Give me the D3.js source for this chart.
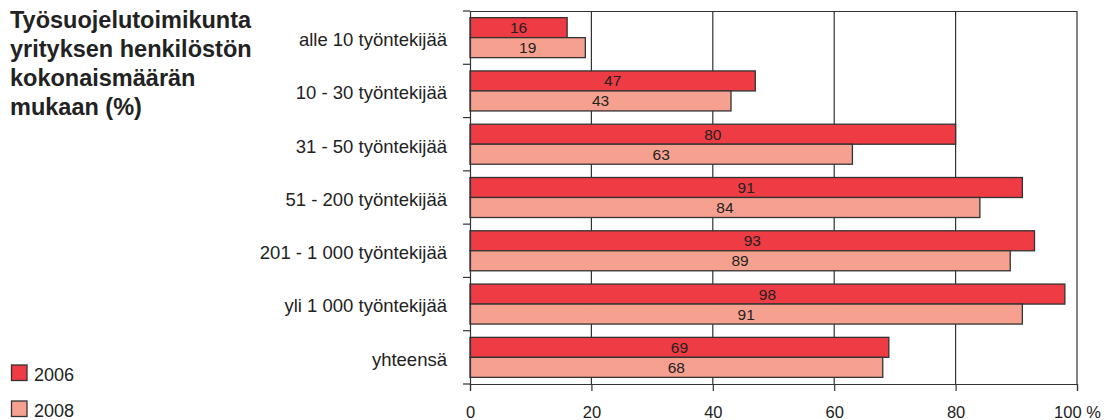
<!DOCTYPE html>
<html><head><meta charset="utf-8">
<script src="https://cdn.jsdelivr.net/npm/d3@7"></script>
<style>body{margin:0;background:#fff;font-family:"Liberation Sans",Arial,sans-serif}</style>
</head><body><svg id="c" width="1107" height="420"></svg>
<script>
const categories = ["alle 10 työntekijää","10 - 30 työntekijää","31 - 50 työntekijää","51 - 200 työntekijää","201 - 1 000 työntekijää","yli 1 000 työntekijää","yhteensä"];
const series = ["2006","2008"];
const values2006 = [16,47,80,91,93,98,69];
const values2008 = [19,43,63,84,89,91,68];
const ticks = [0,20,40,60,80,100];
const tickLabels = ["0","20","40","60","80","100 %"];
const colors = ["#EE3B44","#F6A18F"];
const titleLines = ["Työsuojelutoimikunta","yrityksen henkilöstön","kokonaismäärän","mukaan (%)"];

const svg = d3.select("#c");
const L=470, R=1077, T=11, B=384;
const x = d3.scaleLinear().domain([0,100]).range([L,R]);
const y = d3.scaleBand().domain(categories).range([T,B]);
const inner = d3.scaleBand().domain(series).range([0,40]);
const pad = (y.bandwidth()-40)/2;
const font = "'Liberation Sans', Arial, sans-serif";

// grid
svg.append("g").selectAll("line").data(ticks.slice(1)).join("line")
 .attr("x1",d=>x(d)).attr("x2",d=>x(d)).attr("y1",T).attr("y2",B)
 .attr("stroke","#333").attr("stroke-width",1.2);
svg.append("line").attr("x1",L).attr("x2",R).attr("y1",T+0.5).attr("y2",T+0.5).attr("stroke","#333");

// bars
const data = [];
categories.forEach((c,i)=>{ data.push({c,s:"2006",v:values2006[i]}); data.push({c,s:"2008",v:values2008[i]}); });
const g = svg.append("g");
g.selectAll("rect").data(data).join("rect")
 .attr("x",x(0)).attr("y",d=>y(d.c)+pad+inner(d.s))
 .attr("width",d=>x(d.v)-x(0)).attr("height",inner.bandwidth())
 .attr("fill",d=>colors[series.indexOf(d.s)]).attr("stroke","#333").attr("stroke-width",1.3);
g.selectAll("text").data(data).join("text")
 .attr("x",d=>(x(0)+x(d.v))/2).attr("y",d=>y(d.c)+pad+inner(d.s)+inner.bandwidth()/2+5.5)
 .attr("text-anchor","middle").attr("font-family",font).attr("font-size",15.5).attr("fill","#222")
 .text(d=>d.v);

// x axis
const xa = svg.append("g").attr("transform",`translate(0,${B})`)
 .call(d3.axisBottom(x).tickValues(ticks).tickSize(7).tickFormat((d,i)=>tickLabels[i]));
xa.select(".domain").attr("stroke","#333").attr("stroke-width",1.2);
xa.selectAll(".tick line").attr("stroke","#333").attr("stroke-width",1.2);
xa.selectAll("text").attr("font-family",font).attr("font-size",16.5).attr("fill","#222").attr("dy",0).attr("y",33.5);

// y axis
const ya = svg.append("g").attr("transform",`translate(${L},0)`)
 .call(d3.axisLeft(y).tickSize(0).tickPadding(23));
ya.select(".domain").attr("stroke","#333").attr("stroke-width",1.2);
ya.selectAll("text").attr("font-family",font).attr("font-size",18.5).attr("fill","#222").attr("dy","0.45em");
svg.append("g").selectAll("line").data(d3.range(categories.length+1)).join("line")
 .attr("x1",L-7).attr("x2",L).attr("y1",i=>T+i*y.step()).attr("y2",i=>T+i*y.step())
 .attr("stroke","#333").attr("stroke-width",1.2);

// title
svg.append("text").attr("font-family",font).attr("font-weight","bold").attr("font-size",23.5).attr("fill","#222")
 .selectAll("tspan").data(titleLines).join("tspan").attr("x",10).attr("y",(d,i)=>28+i*29).text(d=>d);

// legend
const lg = svg.append("g").selectAll("g").data(series).join("g")
 .attr("transform",(d,i)=>`translate(11.5,${365+i*36})`);
lg.append("rect").attr("width",15.5).attr("height",15.5).attr("fill",(d,i)=>colors[i]).attr("stroke","#333").attr("stroke-width",1.3);
lg.append("text").attr("x",22.5).attr("y",15.5).attr("font-family",font).attr("font-size",18).attr("fill","#222").text(d=>d);
</script></body></html>
